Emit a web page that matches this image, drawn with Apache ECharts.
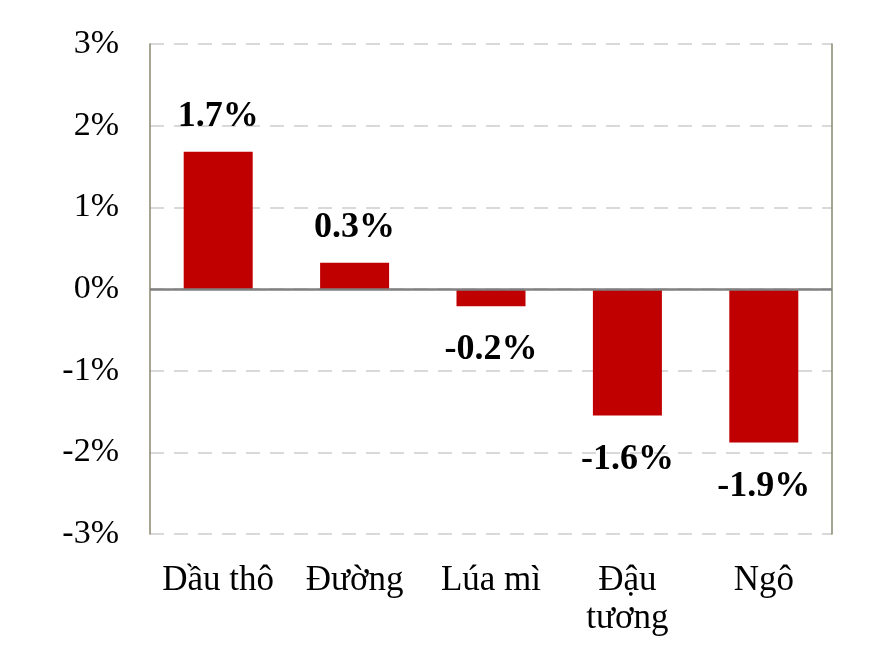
<!DOCTYPE html>
<html><head><meta charset="utf-8">
<script src="https://cdn.jsdelivr.net/npm/echarts@6/dist/echarts.min.js"></script>
<style>html,body{margin:0;padding:0;background:#fff}#c{width:881px;height:659px}</style>
</head><body><div id="c"></div>
<script>
const categories = ['Dầu thô', 'Đường', 'Lúa mì', 'Đậu\ntương', 'Ngô'];
const values = [1.68, 0.32, -0.21, -1.55, -1.88];
const valueLabels = ['1.7%', '0.3%', '-0.2%', '-1.6%', '-1.9%'];
const yTicks = [-3, -2, -1, 0, 1, 2, 3];

const font = 'Liberation Serif';
const chart = echarts.init(document.getElementById('c'));
chart.setOption({
  animation: false,
  grid: { left: 150, right: 49, top: 44, bottom: 125 },
  xAxis: {
    type: 'category', data: categories,
    axisLine: { show: false }, axisTick: { show: false },
    axisLabel: { interval: 0, hideOverlap: false, fontFamily: font, fontSize: 35, color: '#000', margin: 28, lineHeight: 38 }
  },
  yAxis: [{
    type: 'value', min: yTicks[0], max: yTicks[yTicks.length - 1], interval: 1,
    axisLine: { show: true, lineStyle: { color: '#87876e', width: 1.5 } },
    axisTick: { show: false },
    axisLabel: { fontFamily: font, fontSize: 34, color: '#000', margin: 31, formatter: v => v + '%' },
    splitLine: { show: true, lineStyle: { color: '#d9d9d9', width: 2, type: [14, 10] } }
  }, {
    type: 'value', position: 'right', min: yTicks[0], max: yTicks[yTicks.length - 1], interval: 1,
    axisLine: { show: true, lineStyle: { color: '#87876e', width: 1.5 } },
    axisTick: { show: false }, axisLabel: { show: false }, splitLine: { show: false }
  }],
  series: [{
    type: 'bar', barWidth: 69,
    data: values.map(v => ({ value: v, label: { distance: v >= 0 ? 17 : 26 } })),
    itemStyle: { color: '#c00000' },
    label: {
      show: true, position: 'outside',
      fontFamily: font, fontSize: 36, fontWeight: 'bold', color: '#000',
      formatter: p => valueLabels[p.dataIndex]
    },
    markLine: {
      silent: true, symbol: 'none', label: { show: false },
      lineStyle: { color: '#808080', width: 2.5, type: 'solid' },
      data: [{ yAxis: 0 }]
    }
  }]
});
</script></body></html>
